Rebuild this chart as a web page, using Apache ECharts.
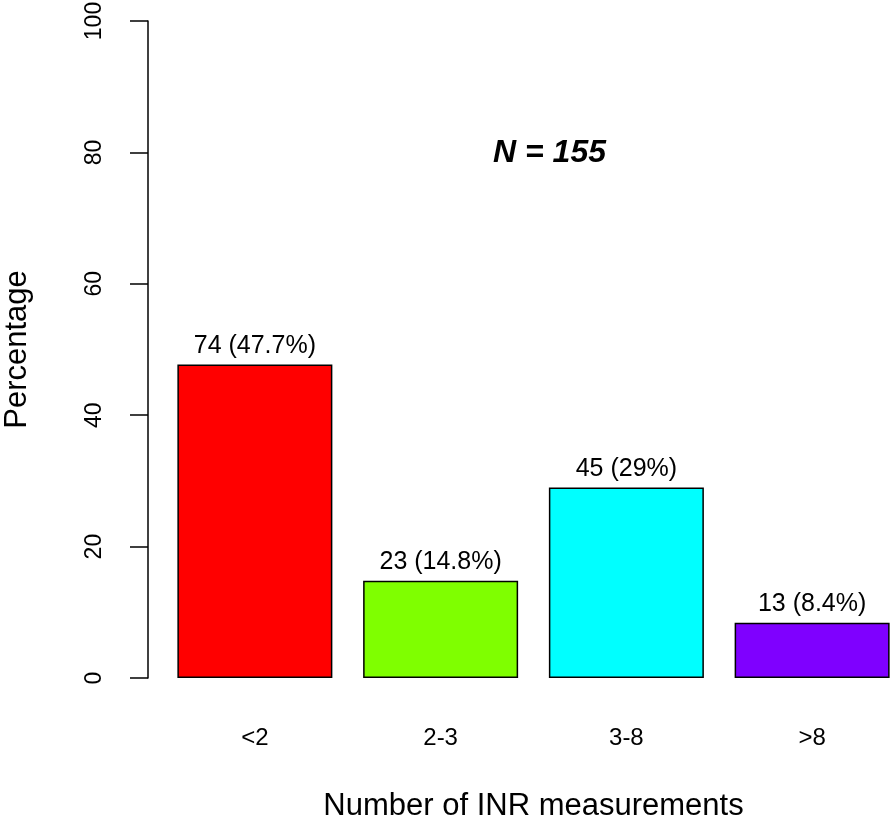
<!DOCTYPE html>
<html>
<head>
<meta charset="utf-8">
<script src="https://cdn.jsdelivr.net/npm/echarts@6/dist/echarts.min.js"></script>
<style>
  html, body { margin: 0; padding: 0; background: #fff; }
  #chart { width: 894px; height: 827px; }
</style>
</head>
<body>
<div id="chart"></div>
<script>
const categories = ['<2', '2-3', '3-8', '>8'];
const percentages = [47.7, 14.8, 29, 8.4];
const counts = [74, 23, 45, 13];
const pctLabels = ['47.7%', '14.8%', '29%', '8.4%'];
const barColors = ['#ff0000', '#7fff00', '#00ffff', '#7f00ff'];
const yTicks = [0, 20, 40, 60, 80, 100];

const font = 'Liberation Sans, Arial, sans-serif';

let myChart = echarts.init(document.getElementById('chart'));

const seriesData = percentages.map((v, i) => ({
    value: v,
    itemStyle: { color: barColors[i] }
}));

myChart.setOption({
    animation: false,
    backgroundColor: '#fff',
    grid: { left: 162, top: 21, width: 743, height: 657, outerBoundsMode: 'none', containLabel: false },
    graphic: [{
        type: 'text',
        x: 493,
        y: 153,
        style: {
            text: 'N = 155',
            font: 'italic bold 32px ' + font,
            fill: '#000',
            textAlign: 'left',
            textVerticalAlign: 'middle'
        }
    }],
    xAxis: {
        type: 'category',
        data: categories,
        axisLine: { show: false },
        axisTick: { show: false },
        axisLabel: { margin: 48, fontSize: 24, fontFamily: font, color: '#000' },
        name: 'Number of INR measurements',
        nameLocation: 'middle',
        nameGap: 113,
        nameTextStyle: { fontSize: 31, fontFamily: font, color: '#000' }
    },
    yAxis: {
        type: 'value',
        min: yTicks[0],
        max: yTicks[yTicks.length - 1],
        interval: 20,
        offset: 14,
        splitLine: { show: false },
        axisLine: { show: true, lineStyle: { color: '#000', width: 1.5 } },
        axisTick: { show: true, length: 18, lineStyle: { color: '#000', width: 1.5 } },
        axisLabel: { rotate: 90, margin: 42, fontSize: 23, fontFamily: font, color: '#000' },
        name: 'Percentage',
        nameLocation: 'middle',
        nameRotate: 90,
        nameGap: 115,
        nameTextStyle: { fontSize: 31, fontFamily: font, color: '#000' }
    },
    series: [{
        type: 'bar',
        data: seriesData,
        barWidth: 155,
        itemStyle: { borderColor: '#000', borderWidth: 1.5 },
        label: {
            show: true,
            position: 'top',
            distance: 6,
            fontSize: 25,
            fontFamily: font,
            color: '#000',
            formatter: p => counts[p.dataIndex] + ' (' + pctLabels[p.dataIndex] + ')'
        }
    }]
});
</script>
</body>
</html>
